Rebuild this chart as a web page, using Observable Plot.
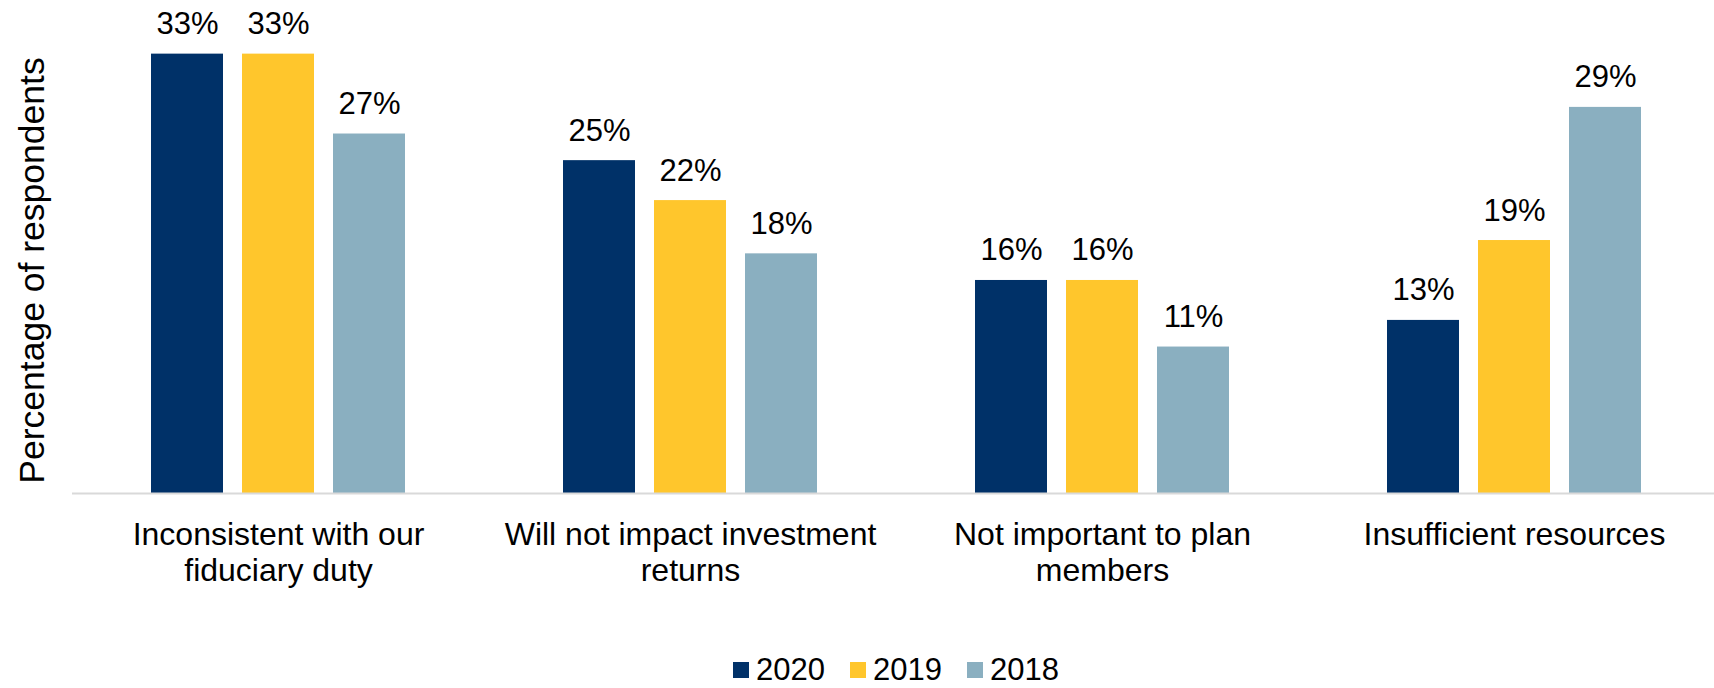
<!DOCTYPE html>
<html><head><meta charset="utf-8">
<script src="https://cdn.jsdelivr.net/npm/d3@7"></script>
<script src="https://cdn.jsdelivr.net/npm/@observablehq/plot@0.6"></script>
<style>
body{margin:0;background:#fff;font-family:"Liberation Sans",Arial,sans-serif;}
#wrap{position:relative;width:1714px;height:688px;overflow:hidden;background:#fff}
#legend{position:absolute;left:733px;top:654px;font-size:31px;line-height:31px;color:#000;white-space:nowrap}
.sw{display:inline-block;width:16px;height:16px;vertical-align:2px;margin-right:7px}
.item{display:inline-block;margin-right:25px}
</style></head><body><div id="wrap"><div id="chart"></div><div id="legend"></div></div>
<script>
const categories = ["Inconsistent with our fiduciary duty", "Will not impact investment returns", "Not important to plan members", "Insufficient resources"];
const categoryLabels = ["Inconsistent with our\nfiduciary duty", "Will not impact investment\nreturns", "Not important to plan\nmembers", "Insufficient resources"];
const years = ["2020", "2019", "2018"];
const values2020 = [33, 25, 16, 13];
const values2019 = [33, 22, 16, 19];
const values2018 = [27, 18, 11, 29];
const yearColors = ["#003168", "#FFC62C", "#8AAFC0"];
const axisTitle = "Percentage of respondents";

const series = {"2020": values2020, "2019": values2019, "2018": values2018};
const data = categories.flatMap((c, i) => years.map(y => ({category: c, year: y, value: series[y][i]})));

const plot = Plot.plot({
  width: 1714, height: 640,
  marginLeft: 71, marginRight: -6, marginTop: 27, marginBottom: 147,
  style: {fontFamily: '"Liberation Sans", Arial, sans-serif', background: "white", color: "#000", overflow: "visible"},
  fx: {domain: categories, paddingInner: 0, paddingOuter: 0, label: null},
  x: {domain: years, paddingInner: 0.211, paddingOuter: 0.855, axis: null},
  y: {domain: [0, 35], axis: null},
  color: {domain: years, range: yearColors},
  marks: [
    Plot.barY(data, {fx: "category", x: "year", y: "value", fill: "year"}),
    Plot.ruleY([0], {stroke: "#D9D9D9", strokeWidth: 2}),
    Plot.text(data, {fx: "category", x: "year", y: "value", text: d => d.value + "%", dy: -20, lineAnchor: "bottom", fontSize: 31, fill: "#000"}),
    Plot.axisFx({anchor: "bottom", tickSize: 0, tickPadding: 26, fontSize: 32, lineHeight: 1.125, tickFormat: c => categoryLabels[categories.indexOf(c)], label: null}),
    Plot.text([axisTitle], {fx: [categories[0]], frameAnchor: "left", rotate: -90, lineAnchor: "bottom", textAnchor: "middle", dx: -29, dy: 10, fontSize: 35.5, fill: "#000"})
  ]
});
document.getElementById("chart").appendChild(plot);

const legend = document.getElementById("legend");
years.forEach((y, i) => {
  const item = document.createElement("span");
  item.className = "item";
  const sw = document.createElement("span");
  sw.className = "sw";
  sw.style.background = plot.scale("color").apply(y);
  item.appendChild(sw);
  item.appendChild(document.createTextNode(y));
  legend.appendChild(item);
});
</script></body></html>
